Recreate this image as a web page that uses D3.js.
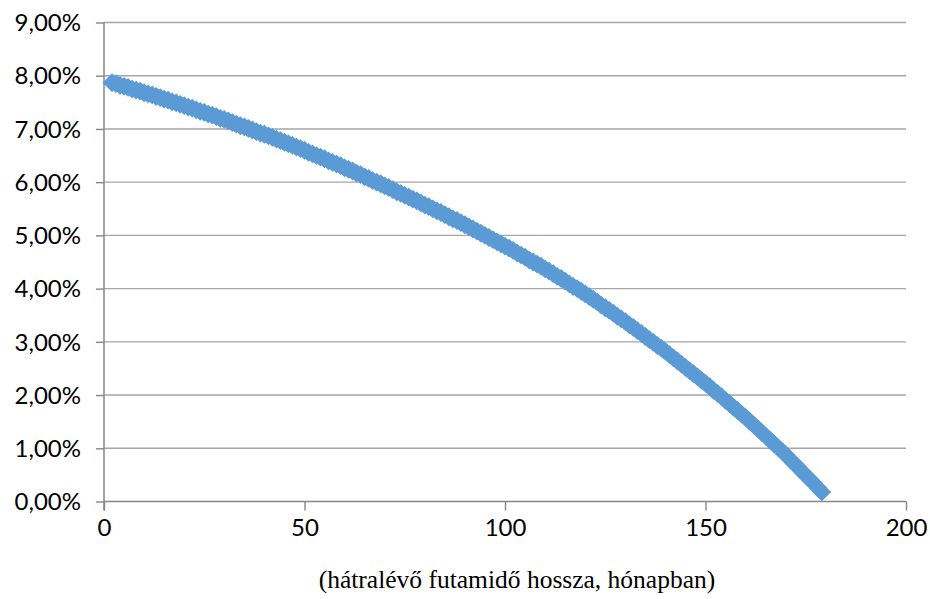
<!DOCTYPE html>
<html>
<head>
<meta charset="utf-8">
<script src="https://cdn.jsdelivr.net/npm/d3@7/dist/d3.min.js"></script>
<style>
  html, body { margin: 0; padding: 0; background: #ffffff; }
  svg { display: block; }
</style>
</head>
<body>
<svg id="chart" width="930" height="599"></svg>
<script>
// Remaining term of the loan (months) starts here; one point per month.
const startMonth = 2;

// Rate (in %) for each remaining month, from month 2 to month 179.
const rateValues = [
  7.87, 7.85, 7.82, 7.80, 7.78, 7.75, 7.73, 7.71, 7.68,
  7.66, 7.64, 7.61, 7.59, 7.56, 7.54, 7.51, 7.49, 7.46, 7.44,
  7.41, 7.39, 7.36, 7.33, 7.31, 7.28, 7.26, 7.23, 7.20, 7.18,
  7.15, 7.12, 7.09, 7.06, 7.04, 7.01, 6.98, 6.95, 6.92, 6.90,
  6.87, 6.84, 6.81, 6.78, 6.75, 6.72, 6.69, 6.66, 6.63, 6.60,
  6.56, 6.53, 6.50, 6.47, 6.44, 6.40, 6.37, 6.34, 6.31, 6.27,
  6.24, 6.21, 6.17, 6.14, 6.10, 6.07, 6.03, 6.00, 5.97, 5.93,
  5.90, 5.86, 5.82, 5.79, 5.75, 5.72, 5.68, 5.65, 5.61, 5.57,
  5.54, 5.50, 5.46, 5.43, 5.39, 5.35, 5.31, 5.28, 5.24, 5.20,
  5.16, 5.12, 5.08, 5.04, 5.00, 4.96, 4.92, 4.88, 4.84, 4.80,
  4.76, 4.72, 4.67, 4.63, 4.59, 4.54, 4.50, 4.46, 4.42, 4.37,
  4.33, 4.28, 4.23, 4.19, 4.14, 4.09, 4.04, 4.00, 3.95, 3.90,
  3.85, 3.80, 3.75, 3.69, 3.64, 3.59, 3.54, 3.48, 3.43, 3.38,
  3.32, 3.27, 3.21, 3.16, 3.10, 3.04, 2.99, 2.93, 2.88, 2.82,
  2.76, 2.70, 2.64, 2.58, 2.52, 2.46, 2.40, 2.34, 2.28, 2.22,
  2.16, 2.09, 2.03, 1.97, 1.90, 1.84, 1.77, 1.71, 1.64, 1.58,
  1.51, 1.44, 1.37, 1.30, 1.23, 1.16, 1.09, 1.02, 0.95, 0.88,
  0.80, 0.72, 0.65, 0.57, 0.49, 0.42, 0.34, 0.26, 0.18
];

// Axis ticks
const xTicks = [0, 50, 100, 150, 200];
const yTicks = [0, 1, 2, 3, 4, 5, 6, 7, 8, 9];

const xTitle = "(hátralévő futamidő hossza, hónapban)";

const points = rateValues.map((v, i) => ({ month: startMonth + i, rate: v }));

const svg = d3.select("#chart");

const x = d3.scaleLinear().domain([0, 200]).range([104, 906]);
const y = d3.scaleLinear().domain([0, 9]).range([501.5, 22.5]);

// Hungarian number format: decimal comma
const huLocale = d3.formatLocale({ decimal: ",", thousands: " ", grouping: [3], currency: ["", " Ft"] });
const pct = v => huLocale.format(".2f")(v) + "%";

const gridColor = "#a6a6a6";
const axisColor = "#868686";
const tickFont = "Lato, 'Open Sans', sans-serif";
const tickSize = 24;

// Horizontal gridlines
svg.append("g")
  .selectAll("line")
  .data(yTicks.filter(t => t > 0))
  .join("line")
  .attr("x1", x(0)).attr("x2", x(200))
  .attr("y1", d => y(d)).attr("y2", d => y(d))
  .attr("stroke", gridColor)
  .attr("stroke-width", 1.4);

// Y axis
const yAxis = svg.append("g")
  .attr("transform", `translate(${x(0)},0)`)
  .call(d3.axisLeft(y).tickValues(yTicks).tickFormat(pct).tickSize(8).tickPadding(15));
yAxis.select(".domain").attr("stroke", axisColor).attr("stroke-width", 1.5)
  .attr("d", `M0,${y(9)}V${y(0) + 9}`);
yAxis.selectAll(".tick line").attr("stroke", axisColor).attr("stroke-width", 1.4);
yAxis.selectAll(".tick text")
  .attr("font-family", tickFont).attr("font-size", tickSize).attr("fill", "#000")
  .attr("dy", "0.34em");

// X axis
const xAxis = svg.append("g")
  .attr("transform", `translate(0,${y(0)})`)
  .call(d3.axisBottom(x).tickValues(xTicks).tickFormat(d3.format("d")).tickSize(9).tickPadding(8));
xAxis.select(".domain").attr("stroke", axisColor).attr("stroke-width", 1.5)
  .attr("d", `M${x(0)},0H${x(200)}`);
xAxis.selectAll(".tick line").attr("stroke", axisColor).attr("stroke-width", 1.4);
xAxis.selectAll(".tick text")
  .attr("font-family", tickFont).attr("font-size", tickSize).attr("fill", "#000");

// Axis title
svg.append("text")
  .attr("x", 517)
  .attr("y", 588)
  .attr("text-anchor", "middle")
  .attr("font-family", "'Liberation Serif', 'Times New Roman', serif")
  .attr("font-size", 25.5)
  .attr("fill", "#000")
  .text(xTitle);

// Diamond markers, one per month
const r = 9.4;
const diamond = `M0,${-r}L${r},0L0,${r}L${-r},0Z`;
svg.append("g")
  .selectAll("path")
  .data(points)
  .join("path")
  .attr("d", diamond)
  .attr("transform", d => `translate(${x(d.month)},${y(d.rate)})`)
  .attr("fill", "#5b9bd5");
</script>
</body>
</html>
